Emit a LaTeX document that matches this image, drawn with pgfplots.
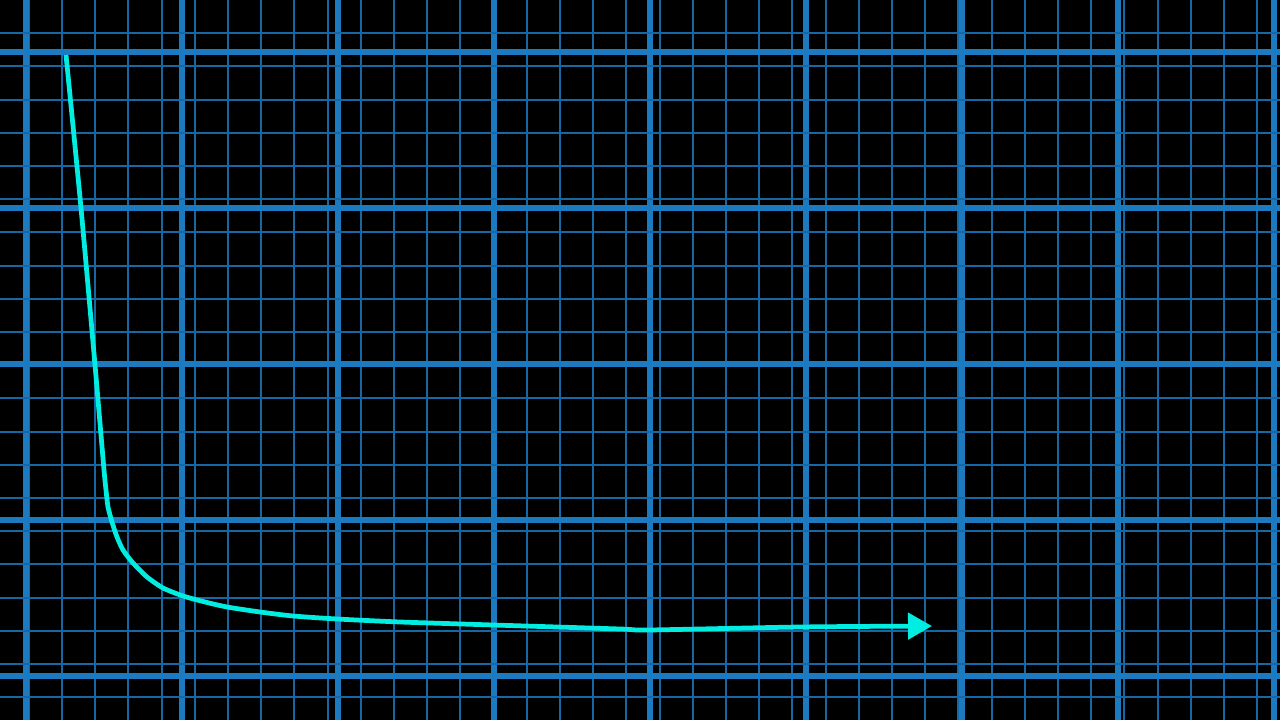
\documentclass[border=0pt]{standalone}
\usepackage{pgfplots}
\pgfplotsset{compat=1.18}
\usetikzlibrary{arrows.meta}

\definecolor{gridmajor}{RGB}{28,122,192}
\definecolor{gridminor}{RGB}{22,104,165}
\definecolor{curve}{RGB}{0,238,225}

\begin{document}
\begin{tikzpicture}
    \begin{axis}[
            name=ax,
            width=12.8cm,
            height=7.2cm,
            scale only axis,
            xmin=0, xmax=1280,
            ymin=0, ymax=720,
            axis background/.style={fill=black},
            axis line style={draw=none},
            tick style={draw=none},
            xticklabel=\empty,
            yticklabel=\empty,
            xtick={26,182,...,1274},
            ytick={44,200,...,668},
            minor xtick={28.8,62,...,1257.2},
            minor ytick={22.8,56,...,686.8},
            grid=both,
            major grid style={gridmajor, line width=1.45pt},
            minor grid style={gridminor, line width=0.6pt},
        ]

        % curve, read off in pixels (y measured upward)
        \addplot[curve, line width=1.35pt, smooth, tension=0.4,
                -{Triangle[length=2.4mm, width=2.6mm]}] coordinates {
                (66,665) (81,512) (95,355) (104,250) (106,230)
                (108,213) (112,198) (117,183) (123,170) (133,157)
                (147,143) (163,132) (183,124) (205,118) (227,113)
                (260,108) (293,104) (337,101) (400,98) (493,95)
                (620,91) (649,90) (800,93) (932,94)
            };

    \end{axis}
    \pgfresetboundingbox
    \path (ax.south west) rectangle (ax.north east);
\end{tikzpicture}
\end{document}
